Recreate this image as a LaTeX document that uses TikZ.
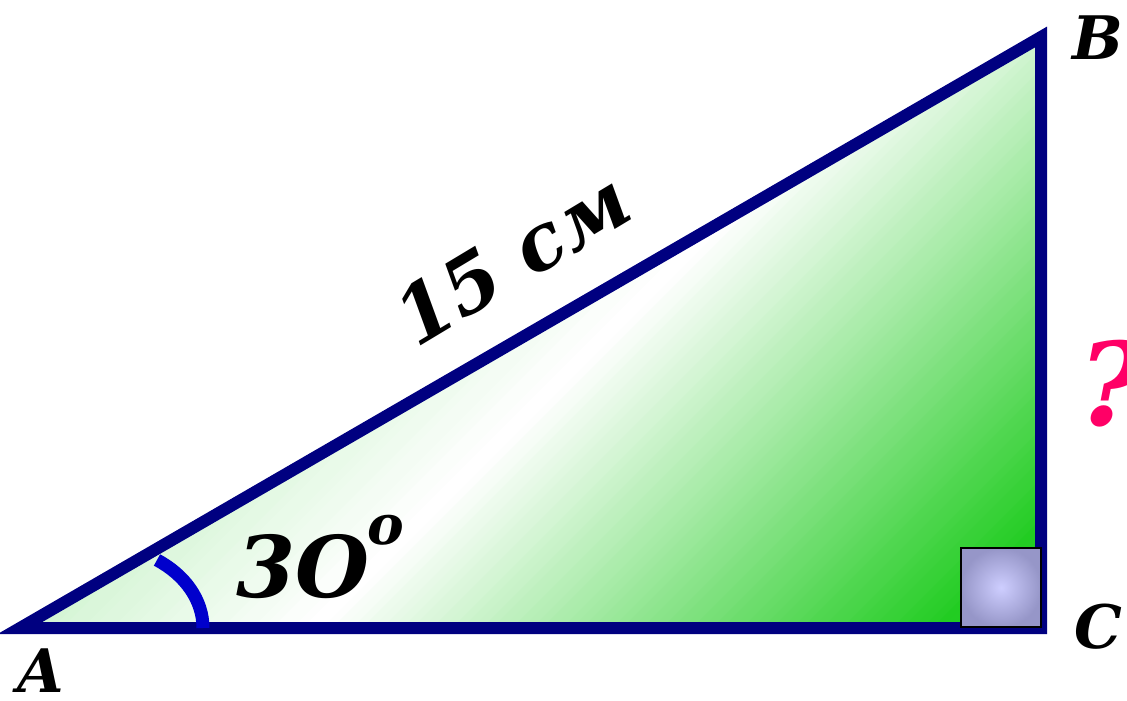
\documentclass[tikz,border=0pt]{standalone}
\usepackage{fontspec}
\setmainfont{DejaVu Serif}
\definecolor{navyline}{RGB}{0,0,128}
\definecolor{arcblue}{RGB}{0,0,204}
\definecolor{triggreen}{RGB}{34,204,34}
\definecolor{qpink}{RGB}{255,0,102}
\definecolor{sqin}{RGB}{206,206,255}
\definecolor{sqout}{RGB}{150,150,200}
\tikzset{
  lbl/.style={font=\bfseries\itshape\fontsize{60}{60}\selectfont, inner sep=0pt},
  edge/.style={draw=navyline, line width=12pt, line join=miter},
}
\begin{document}
\begin{tikzpicture}[x=1pt,y=-1pt]
\useasboundingbox (0,0) rectangle (1127,701);
\coordinate (A) at (20,628);
\coordinate (B) at (1041,37);
\coordinate (C) at (1041,628);
% gradient fill (diagonal bands)
\begin{scope}
\clip (A) -- (B) -- (C) -- cycle;
\foreach \s in {560,570,...,1720}{
  \pgfmathtruncatemacro{\p}{\s<940 ? (940-\s)/14 : min(100,(\s-940)/6.2)}
  \fill[triggreen!\p!white] (\s+100,-100) -- (\s+112,-100) -- (\s-788,800) -- (\s-800,800) -- cycle;
}
\end{scope}
\draw[edge] (A) -- (B) -- (C) -- cycle;
% angle arc
\draw[arcblue, line width=13pt] (157,560) .. controls (185,575) and (203,600) .. (203,628);
% right angle square
\shade[inner color=sqin, outer color=sqout] (961,548) rectangle (1041,627);
\draw[black, line width=2.5pt] (961,548) rectangle (1041,627);
% labels
\node[lbl] (lA) at (41,671) {A};
\node[lbl] (lB) at (1098,38) {B};
\node[lbl] (lC) at (1098,627) {C};
\node[inner sep=0pt, font=\bfseries\itshape\fontsize{115}{115}\selectfont, text=qpink] (q) at (1112,384) {?};
\node[inner sep=0pt, font=\bfseries\itshape\fontsize{85}{85}\selectfont, anchor=base west] (ang) at (236,597) {3O};
\node[inner sep=0pt, font=\bfseries\itshape\fontsize{55}{55}\selectfont] (deg) at (386,530) {o};
\node[inner sep=0pt, rotate=31, font=\bfseries\itshape\fontsize{78}{78}\selectfont] (len) at (512,258) {15 см};
\end{tikzpicture}
\end{document}
